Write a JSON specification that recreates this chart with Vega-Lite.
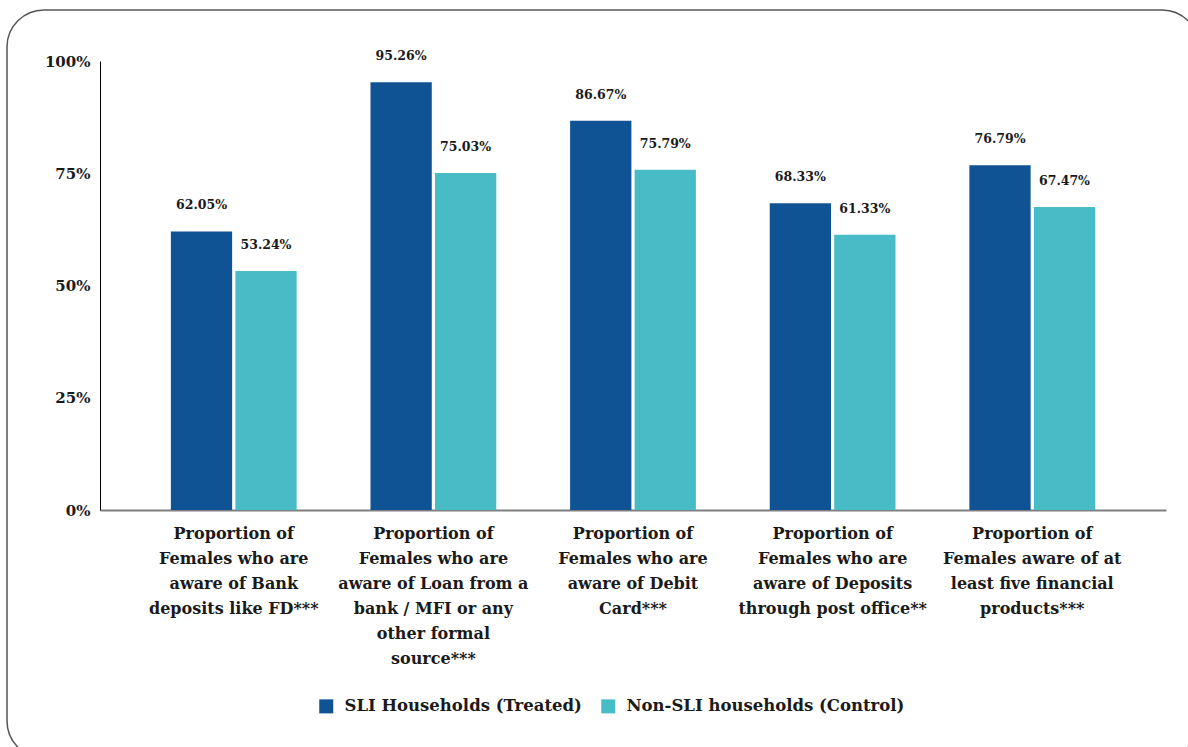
{
  "$schema": "https://vega.github.io/schema/vega-lite/v6.json",
  "width": 1192,
  "height": 748,
  "autosize": {"type": "none"},
  "padding": {"left": 7, "top": 10, "right": -11, "bottom": -11},
  "config": {
    "font": "DejaVu Serif",
    "view": {"stroke": "#555555", "strokeWidth": 1.5, "cornerRadius": 37, "fill": "white"}
  },
  "data": {
    "values": [
      {"category": "Proportion of|Females who are|aware of Bank|deposits like FD***", "group": "SLI Households (Treated)", "value": 0.6205},
      {"category": "Proportion of|Females who are|aware of Bank|deposits like FD***", "group": "Non-SLI households (Control)", "value": 0.5324},
      {"category": "Proportion of|Females who are|aware of Loan from a|bank / MFI or any|other formal|source***", "group": "SLI Households (Treated)", "value": 0.9526},
      {"category": "Proportion of|Females who are|aware of Loan from a|bank / MFI or any|other formal|source***", "group": "Non-SLI households (Control)", "value": 0.7503},
      {"category": "Proportion of|Females who are|aware of Debit|Card***", "group": "SLI Households (Treated)", "value": 0.8667},
      {"category": "Proportion of|Females who are|aware of Debit|Card***", "group": "Non-SLI households (Control)", "value": 0.7579},
      {"category": "Proportion of|Females who are|aware of Deposits|through post office**", "group": "SLI Households (Treated)", "value": 0.6833},
      {"category": "Proportion of|Females who are|aware of Deposits|through post office**", "group": "Non-SLI households (Control)", "value": 0.6133},
      {"category": "Proportion of|Females aware of at|least five financial|products***", "group": "SLI Households (Treated)", "value": 0.7679},
      {"category": "Proportion of|Females aware of at|least five financial|products***", "group": "Non-SLI households (Control)", "value": 0.6747}
    ]
  },
  "encoding": {
    "x": {
      "field": "category",
      "type": "nominal",
      "sort": null,
      "scale": {"range": [93, 1159], "paddingInner": 0.37, "paddingOuter": 0.355},
      "axis": {
        "title": null,
        "orient": "bottom",
        "offset": -248,
        "domainColor": "#7f7f7f",
        "domainWidth": 2,
        "ticks": false,
        "labelAngle": 0,
        "labelAlign": "center",
        "labelBaseline": "top",
        "labelPadding": 15,
        "labelFont": "DejaVu Serif",
        "labelFontWeight": "bold",
        "labelFontSize": 16,
        "labelLineHeight": 25,
        "labelColor": "#1a1a1a",
        "labelLimit": 0,
        "labelExpr": "split(datum.label, '|')"
      }
    },
    "xOffset": {"field": "group", "type": "nominal", "sort": null, "scale": {"paddingInner": 0.05}},
    "y": {
      "field": "value",
      "type": "quantitative",
      "scale": {"domain": [0, 1], "range": [500, 51]},
      "axis": {
        "title": null,
        "orient": "left",
        "offset": -93,
        "values": [0, 0.25, 0.5, 0.75, 1],
        "format": ".0%",
        "grid": false,
        "ticks": false,
        "domainColor": "#000000",
        "domainWidth": 1,
        "labelPadding": 10,
        "labelFont": "DejaVu Serif",
        "labelFontWeight": "bold",
        "labelFontSize": 15,
        "labelColor": "#1a1a1a"
      }
    }
  },
  "layer": [
    {
      "mark": {"type": "bar"},
      "encoding": {
        "color": {
          "field": "group",
          "type": "nominal",
          "sort": null,
          "scale": {
            "domain": ["SLI Households (Treated)", "Non-SLI households (Control)"],
            "range": ["#0f5394", "#47bcc6"]
          },
          "legend": {
            "title": null,
            "orient": "none",
            "direction": "horizontal",
            "legendX": 311,
            "legendY": 688,
            "symbolType": "square",
            "symbolSize": 196,
            "symbolStrokeWidth": 0,
            "labelFont": "DejaVu Serif",
            "labelFontWeight": "bold",
            "labelFontSize": 16.5,
            "labelColor": "#1a1a1a",
            "labelLimit": 0,
            "labelOffset": 10,
            "columnPadding": 18
          }
        }
      }
    },
    {
      "mark": {
        "type": "text",
        "baseline": "middle",
        "align": "center",
        "dy": -26,
        "font": "DejaVu Serif",
        "fontWeight": "bold",
        "fontSize": 12.5,
        "color": "#1a1a1a"
      },
      "encoding": {
        "text": {"field": "value", "type": "quantitative", "format": ".2%"}
      }
    }
  ]
}
